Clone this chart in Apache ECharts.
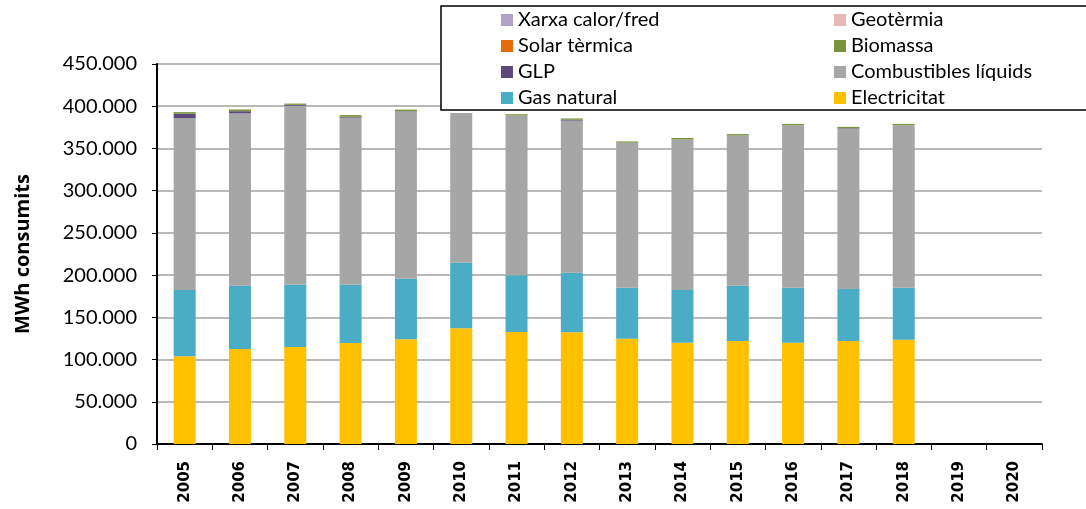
<!DOCTYPE html>
<html>
<head>
<meta charset="utf-8">
<script src="https://cdn.jsdelivr.net/npm/echarts@6/dist/echarts.min.js"></script>
<style>html,body{margin:0;padding:0;background:#fff}#c{width:1086px;height:509px}</style>
</head>
<body>
<div id="c"></div>
<script>
const years = ['2005','2006','2007','2008','2009','2010','2011','2012','2013','2014','2015','2016','2017','2018','2019','2020'];
const electricitat = [104000,112500,115000,119500,124000,137000,132500,132300,124700,120000,122000,120000,122000,123500,null,null];
const gasNatural = [78400,75000,74000,69200,71800,77700,67300,70600,60300,62400,65500,65000,61500,61500,null,null];
const combustibles = [203600,204100,211600,197800,197700,177300,189200,180100,171800,178400,178000,192500,190000,192500,null,null];
const glp = [5000,2500,1000,1000,500,0,0,1000,0,0,0,0,500,0,null,null];
const biomassa = [2000,2000,1500,2000,2000,0,1500,1500,1500,1600,1500,1500,1500,1500,null,null];
const solarTermica = [0,0,0,0,0,0,0,0,0,0,0,0,0,0,null,null];
const geotermia = [0,0,0,0,0,0,0,0,0,0,0,0,0,0,null,null];
const xarxa = [0,0,0,0,0,0,0,0,0,0,0,0,0,0,null,null];
const yTicks = {min:0, max:450000, interval:50000};

const seriesDefs = [
  ['Electricitat', electricitat, '#FFC000'],
  ['Gas natural', gasNatural, '#4BACC6'],
  ['Combustibles líquids', combustibles, '#A6A6A6'],
  ['GLP', glp, '#604A7B'],
  ['Biomassa', biomassa, '#77933C'],
  ['Solar tèrmica', solarTermica, '#E46C0A'],
  ['Geotèrmia', geotermia, '#E6B9B8'],
  ['Xarxa calor/fred', xarxa, '#B3A2C7']
];
const legendPos = [
  ['Xarxa calor/fred', 501, 20], ['Geotèrmia', 834, 20],
  ['Solar tèrmica', 501, 46], ['Biomassa', 834, 46],
  ['GLP', 501, 72], ['Combustibles líquids', 834, 72],
  ['Gas natural', 501, 98], ['Electricitat', 834, 98]
];
const fmt = v => String(v).replace(/\B(?=(\d{3})+(?!\d))/g, '.');

const chart = echarts.init(document.getElementById('c'));
chart.setOption({
  animation: false,
  backgroundColor: '#fff',
  grid: {left:157, right:44, top:64, bottom:65},
  graphic: [{
    type:'rect', z:3, shape:{x:441, y:6, width:700, height:104},
    style:{fill:'#fff', stroke:'#000', lineWidth:1.5}
  }],
  legend: legendPos.map(([n,x,y]) => ({
    data:[n], left:x, top:y-11, padding:0, itemWidth:12, itemHeight:12, icon:'rect', z:5,
    textStyle:{fontFamily:'Lato', fontSize:20, color:'#000', lineHeight:22}
  })),
  xAxis: {
    type:'category', data:years,
    axisLine:{lineStyle:{color:'#000', width:2}},
    axisTick:{show:true, interval:0, length:6, lineStyle:{color:'#000', width:1}},
    axisLabel:{rotate:90, interval:0, margin:17, fontFamily:'DejaVu Sans', fontWeight:'bold', fontSize:15, color:'#000'}
  },
  yAxis: {
    type:'value', min:yTicks.min, max:yTicks.max, interval:yTicks.interval,
    name:'MWh consumits', nameLocation:'middle', nameGap:124, nameRotate:90,
    nameTextStyle:{fontFamily:'Open Sans', fontWeight:'bold', fontSize:20, color:'#000'},
    axisLine:{show:true, lineStyle:{color:'#000', width:2}},
    axisTick:{show:true, length:5, lineStyle:{color:'#000'}},
    axisLabel:{formatter:fmt, margin:20, fontFamily:'Lato', fontSize:20, color:'#000'},
    splitLine:{lineStyle:{color:'#A0A0A0', width:1.5}}
  },
  series: seriesDefs.map(([n,d,c]) => ({
    name:n, type:'bar', stack:'total', data:d, barWidth:22,
    itemStyle:{color:c}
  }))
});
</script>
</body>
</html>
